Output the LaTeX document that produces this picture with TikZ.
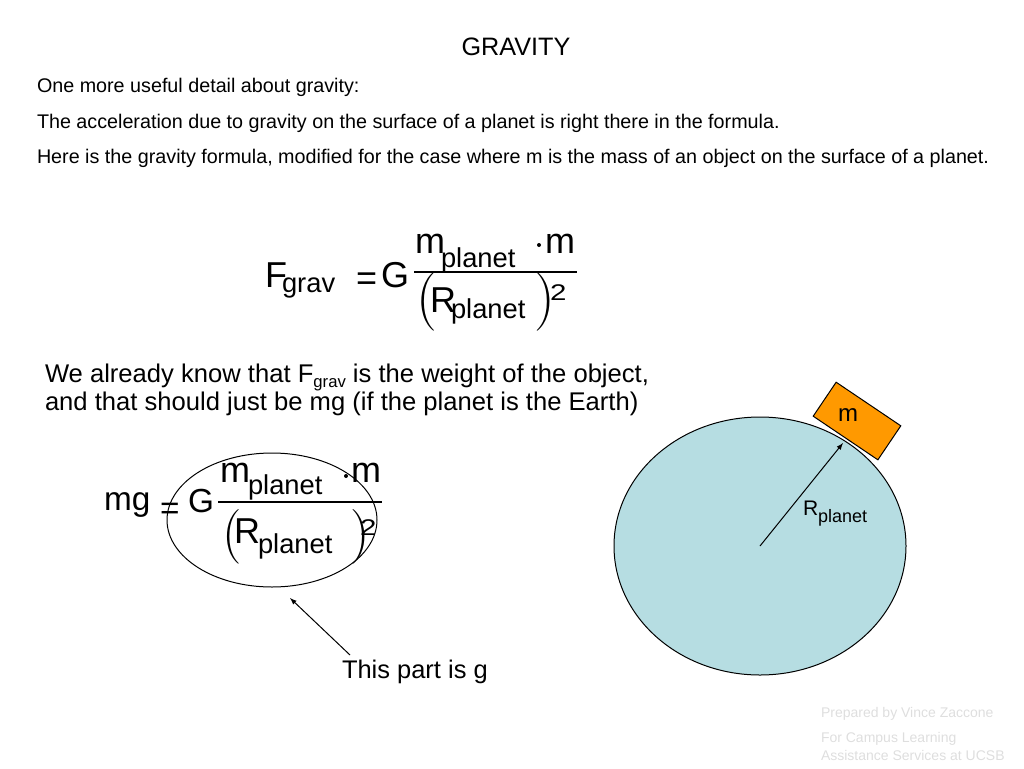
\documentclass[tikz,border=0pt]{standalone}
\usepackage{fontspec}
\setmainfont{Liberation Sans}
\newfontfamily\parfont{Latin Modern Roman}
\usetikzlibrary{calc,positioning}
\definecolor{planetBlue}{RGB}{182,221,226}
\definecolor{boxOrange}{RGB}{255,153,0}
\definecolor{footGray}{RGB}{222,222,222}
\newcommand{\fsz}[1]{\fontsize{#1}{#1}\selectfont}

\begin{document}
\begin{tikzpicture}[x=0.75pt,y=-0.75pt,line width=0.75pt,
    every node/.style={inner sep=0pt,outer sep=0pt},
    txt/.style={anchor=base west,font=\fsz{14.8}},
    bigtxt/.style={anchor=base west,font=\fsz{19.2}},
    eqbig/.style={anchor=base west,font=\fsz{27}},
    eqmid/.style={anchor=base west,font=\fsz{25}},
    eqsub/.style={anchor=base west,font=\fsz{20.5}},
    eqpar/.style={anchor=west,font=\parfont\fsz{#1}},
    eqsup/.style={anchor=base west,font=\fsz{17},xscale=1.3},
    foot/.style={anchor=base west,font=\fsz{10.5},text=footGray}]

  \useasboundingbox (0,0) rectangle (1024,768);

  % title and the three lines of text
  \node[anchor=base,font=\fsz{18.9}] (title) at (516,55) {GRAVITY};
  \foreach \t/\y [count=\i] in {{One more useful detail about gravity:}/92,
      {The acceleration due to gravity on the surface of a planet is right there in the formula.}/128,
      {Here is the gravity formula, modified for the case where m is the mass of an object on the surface of a planet.}/163}
    \node[txt] (line\i) at (37,\y) {\t};

  % draw the first formula
  \node[eqbig] (F1) at (265,287) {F};
  \node[eqsub] (grav1) at (282,292) {grav};
  \node[eqbig] (eq1) at (356,290) {=};
  \node[eqbig] (G1) at (381,287) {G};
  \coordinate (fa1) at (414,272);
  \coordinate (fb1) at (577,272);
  \draw[line width=1pt] (fa1) -- (fb1);
  \node[eqbig] (mp1) at (415,253) {m};
  \node[eqsub] (pl1) at (441,267) {planet};
  \fill (539,245) circle (2);
  \node[eqbig] (m1) at (545,253) {m};
  \node[eqpar=44] (lp1) at (416,301.5) {(};
  \node[eqbig] (R1) at (430,312) {R};
  \node[eqsub] (pr1) at (451,318) {planet};
  \node[eqpar=44] (rp1) at (534,301.5) {)};
  \node[eqsup] (sq1) at (550,300) {2};

  % the weight text
  \node[bigtxt] (know1) at (45,382) {We already know that F\raisebox{-3.75pt}{\fsz{12.5}grav} is the weight of the object,};
  \node[bigtxt] (know2) at (45,410) {and that should just be mg (if the planet is the Earth)};

  % draw the second formula
  \node[eqmid] (mg) at (104,510) {mg};
  \node[eqmid] (eq2) at (160,519) {=};
  \node[eqmid] (G2) at (188,512) {G};
  \coordinate (fa2) at (218,502);
  \coordinate (fb2) at (382,502);
  \draw[line width=1pt] (fa2) -- (fb2);
  \node[eqbig] (mp2) at (220,482) {m};
  \node[eqsub] (pl2) at (248,494) {planet};
  \fill (346,476) circle (2);
  \node[eqbig] (m2) at (351,482) {m};
  \node[eqpar=41] (lp2) at (222,536.5) {(};
  \node[eqbig] (R2) at (234,543) {R};
  \node[eqsub] (pr2) at (258,553) {planet};
  \node[eqpar=41] (rp2) at (350,536.5) {)};
  \node[eqsup] (sq2) at (360,535) {2};

  % the ring round g and its arrow
  \draw (272,520) ellipse [x radius=105, y radius=67];
  \coordinate (gtip) at (290,598);
  \coordinate (gtail) at (350,655);
  \draw[-latex] (gtail) -- (gtip);
  \node[bigtxt,font=\fsz{19.1}] (partg) at (342,678) {This part is g};

  % draw the planet and the mass
  \coordinate (pc) at (760,546);
  \draw[fill=planetBlue] (pc) ellipse [x radius=146, y radius=129];
  \node[draw,fill=boxOrange,minimum width=58.5pt,minimum height=30.75pt,rotate=-34] (mass) at (857,421) {};
  \node[font=\fsz{18}] (mlabel) at (848,415) {m};
  \coordinate (rtip) at (843,443);
  \draw[-latex] (pc) -- (rtip);
  \node[anchor=base west,font=\fsz{15.8}] (R3) at (803,515) {R};
  \node[anchor=base west,font=\fsz{13.5}] (pr3) at (818,522) {planet};

  % footer
  \node[foot] (foot1) at (821,717) {Prepared by Vince Zaccone};
  \node[foot] (foot2) at (821,742) {For Campus Learning};
  \node[foot] (foot3) at (821,760) {Assistance Services at UCSB};

\end{tikzpicture}
\end{document}
